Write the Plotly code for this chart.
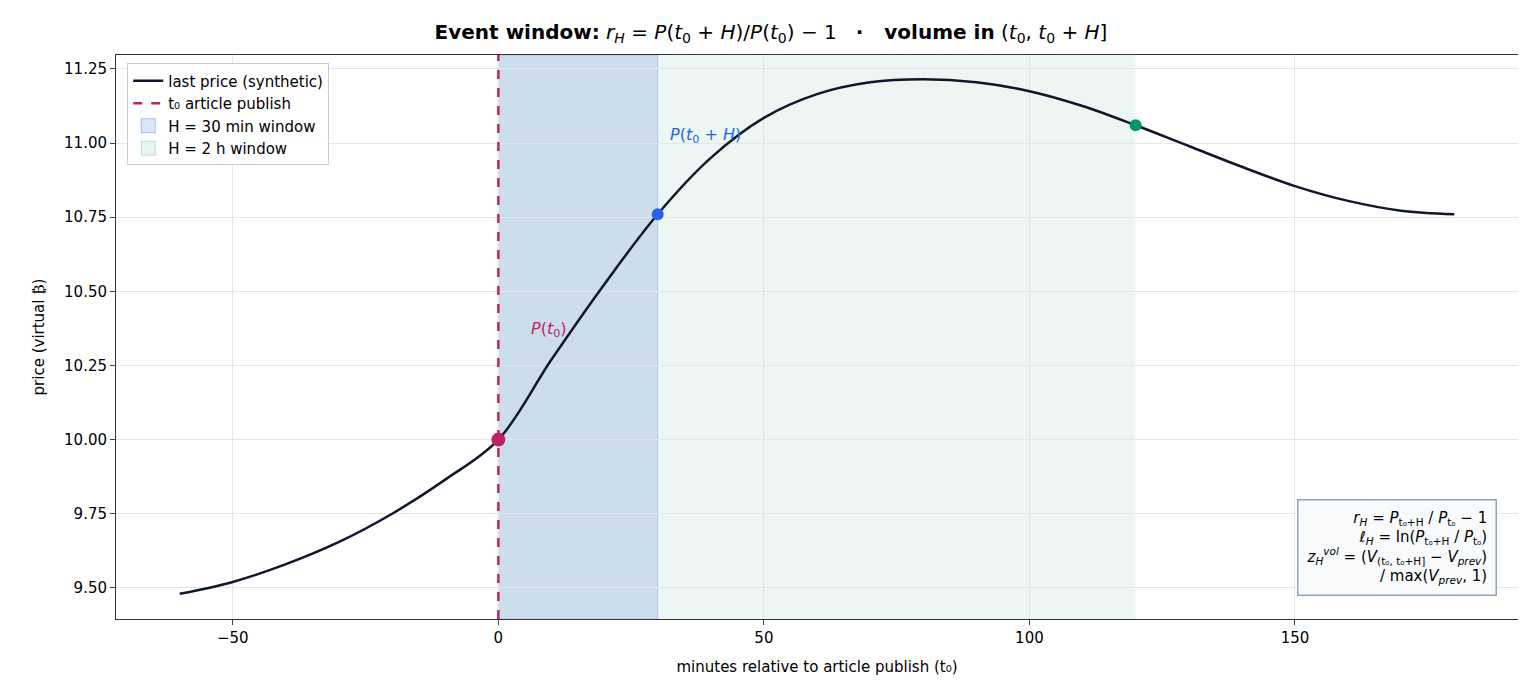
import plotly.graph_objects as go

minutes = [-60,-50,-40,-30,-20,-10,0,10,20,30,40,50,60,70,80,90,100,110,120,130,140,150,160,170,180]
price = [9.48,9.52,9.58,9.655,9.75,9.865,10.00,10.27,10.525,10.76,10.95,11.085,11.165,11.205,11.215,11.205,11.175,11.125,11.06,10.99,10.92,10.855,10.805,10.772,10.76]
t0, h30, h120 = 0, 30, 120
p_t0, p_30, p_120 = 10.00, 10.76, 11.06

F = "DejaVu Sans"
fig = go.Figure()
fig.add_shape(type="rect", x0=t0, x1=h120, y0=0, y1=1, yref="paper", fillcolor="rgba(16,150,110,0.08)", line_width=0, layer="below")
fig.add_shape(type="rect", x0=t0, x1=h30, y0=0, y1=1, yref="paper", fillcolor="rgba(60,110,210,0.18)", line=dict(color="rgba(60,110,210,0.25)", width=1), layer="below")
fig.add_trace(go.Scatter(x=minutes, y=price, mode="lines", line=dict(color="#0f172a", width=2.5, shape="spline", smoothing=1.0), name="last price (synthetic)"))
fig.add_trace(go.Scatter(x=[t0, t0], y=[9.395, 11.297], mode="lines", line=dict(color="#be2465", width=2.5, dash="dash"), name="t₀ article publish"))
fig.add_trace(go.Scatter(x=[None], y=[None], mode="markers", marker=dict(symbol="square", size=14, color="rgba(60,110,210,0.18)", line=dict(color="rgba(60,110,210,0.4)", width=1)), name="H = 30 min window"))
fig.add_trace(go.Scatter(x=[None], y=[None], mode="markers", marker=dict(symbol="square", size=14, color="rgba(16,150,110,0.1)", line=dict(color="rgba(16,150,110,0.25)", width=1)), name="H = 2 h window"))
fig.add_trace(go.Scatter(x=[t0], y=[p_t0], mode="markers", marker=dict(color="#be2465", size=14), showlegend=False))
fig.add_trace(go.Scatter(x=[h30], y=[p_30], mode="markers", marker=dict(color="#2563eb", size=12), showlegend=False))
fig.add_trace(go.Scatter(x=[h120], y=[p_120], mode="markers", marker=dict(color="#059669", size=12), showlegend=False))

fig.add_annotation(x=9.5, y=10.37, text="<i>P</i>(<i>t</i><sub>0</sub>)", showarrow=False, xanchor="center", font=dict(color="#be2465", size=16, family=F))
fig.add_annotation(x=32, y=11.025, text="<i>P</i>(<i>t</i><sub>0</sub> + <i>H</i>)", showarrow=False, xanchor="left", font=dict(color="#2563eb", size=16, family=F))
fig.add_annotation(x=0.985, y=0.04, xref="paper", yref="paper", xanchor="right", yanchor="bottom", align="right",
    text="<i>r<sub>H</sub></i> = <i>P</i><sub>t₀+H</sub> / <i>P</i><sub>t₀</sub> − 1<br><i>ℓ<sub>H</sub></i> = ln(<i>P</i><sub>t₀+H</sub> / <i>P</i><sub>t₀</sub>)<br><i>z<sub>H</sub><sup>vol</sup></i> = (<i>V</i><sub>(t₀, t₀+H]</sub> − <i>V<sub>prev</sub></i>)<br>/ max(<i>V<sub>prev</sub></i>, 1)",
    showarrow=False, bgcolor="rgba(248,250,252,0.95)", bordercolor="#94a3b8", borderwidth=1.5, borderpad=8, font=dict(size=15, family=F, color="#000"))

fig.update_layout(
    width=1526, height=686, plot_bgcolor="white", paper_bgcolor="white",
    margin=dict(l=108, r=16, t=47, b=75),
    font=dict(family=F, size=15, color="#000"),
    title=dict(text="<b>Event window:</b> <i>r<sub>H</sub></i> = <i>P</i>(<i>t</i><sub>0</sub> + <i>H</i>)/<i>P</i>(<i>t</i><sub>0</sub>) − 1   <b>·   volume in</b> (<i>t</i><sub>0</sub>, <i>t</i><sub>0</sub> + <i>H</i>]",
               x=0.5, xanchor="center", y=0.975, font=dict(size=20)),
    legend=dict(x=0.008, y=0.985, xanchor="left", yanchor="top", bgcolor="rgba(255,255,255,0.9)", bordercolor="#cccccc", borderwidth=1, font=dict(size=15)),
    showlegend=True,
)
fig.update_xaxes(range=[-72, 192], tickvals=[-50,0,50,100,150], ticktext=["−50","0","50","100","150"], showgrid=True, gridcolor="#e5e5e5",
                 showline=True, linecolor="#333", mirror=True, ticks="outside", zeroline=False, automargin=False,
                 title=dict(text="minutes relative to article publish (t₀)", font=dict(size=15)))
fig.update_yaxes(range=[9.395, 11.297], tickvals=[9.5,9.75,10,10.25,10.5,10.75,11,11.25], ticktext=["9.50","9.75","10.00","10.25","10.50","10.75","11.00","11.25"],
                 showgrid=True, gridcolor="#e5e5e5", showline=True, linecolor="#333", mirror=True, ticks="outside", zeroline=False, automargin=False,
                 title=dict(text="price (virtual ₿)", font=dict(size=15)))
fig.write_html("out.html")
